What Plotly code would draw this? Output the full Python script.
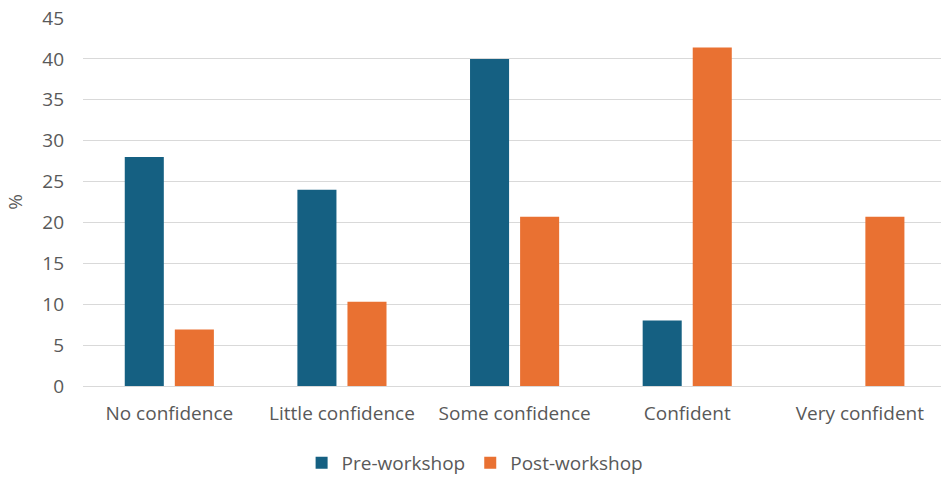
import plotly.graph_objects as go

categories = ["No confidence", "Little confidence", "Some confidence", "Confident", "Very confident"]
pre_workshop = [28, 24, 40, 8, 0]
post_workshop = [6.9, 10.3, 20.7, 41.4, 20.7]
y_ticks = [0, 5, 10, 15, 20, 25, 30, 35, 40, 45]

FONT = "Open Sans"
GRAY = "#595959"
FS = 19

fig = go.Figure()
fig.add_trace(go.Bar(name="Pre-workshop", x=categories, y=pre_workshop,
                     marker=dict(color="#156082", line=dict(width=0))))
fig.add_trace(go.Bar(name="Post-workshop", x=categories, y=post_workshop,
                     marker=dict(color="#E97132", line=dict(width=0))))

fig.update_layout(
    width=941, height=477,
    margin=dict(l=83, r=0, t=18, b=91, autoexpand=False),
    paper_bgcolor="white", plot_bgcolor="white",
    barmode="group", bargap=0.42, bargroupgap=0.22,
    font=dict(family=FONT, size=FS, color=GRAY),
    showlegend=True,
    legend=dict(orientation="h", x=0.457, xanchor="center", yref="container",
                y=(477 - 463) / 477, yanchor="middle",
                font=dict(size=FS, color=GRAY), itemwidth=30, traceorder="normal"),
    xaxis=dict(range=[-0.5, 4.47], showgrid=False, showline=False, ticks="",
               tickfont=dict(size=FS, color=GRAY), fixedrange=True, automargin=False,
               ticklabelstandoff=14),
    yaxis=dict(range=[0, 45], tickvals=y_ticks, showgrid=True, gridcolor="#D9D9D9",
               gridwidth=1.3, zeroline=True, zerolinecolor="#D9D9D9", zerolinewidth=1.3,
               showline=False, ticks="", ticklabelstandoff=18, automargin=False,
               tickfont=dict(size=FS, color=GRAY),
               title=dict(text="%", font=dict(size=FS, color=GRAY), standoff=14)),
)

fig.write_html("out.html")
